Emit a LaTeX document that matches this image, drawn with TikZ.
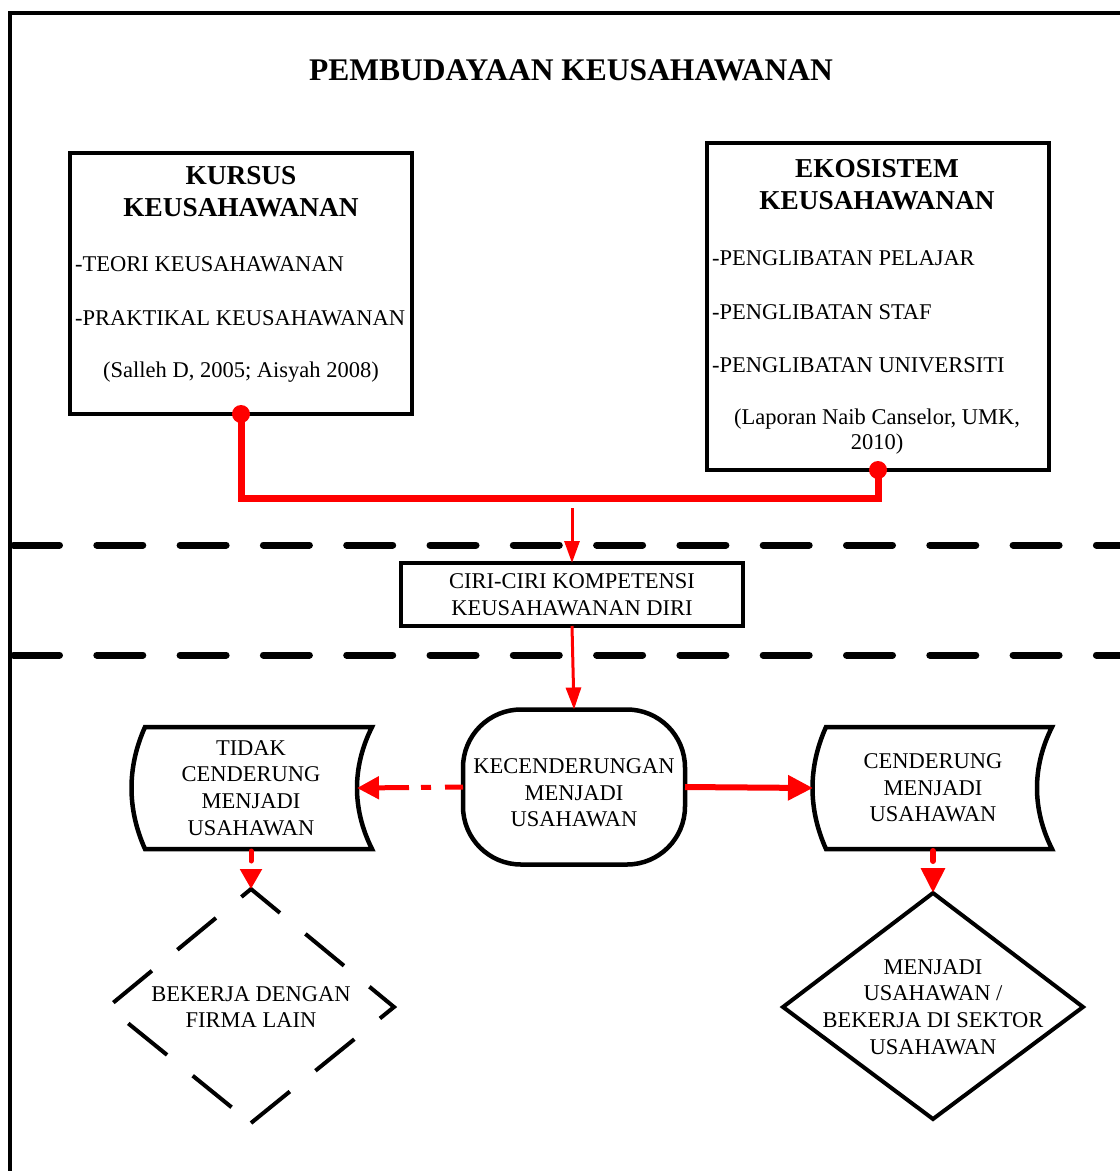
\documentclass[tikz,border=0pt]{standalone}
\usepackage{fontspec}
\setmainfont{Liberation Serif}
\usetikzlibrary{arrows.meta,calc}
\tikzset{
  frame/.style={line width=4.5pt, line join=miter},
  sepline/.style={line width=7pt, dash pattern=on 46pt off 37.3pt, line cap=round},
  box/.style={draw, line width=4pt, outer sep=0pt, inner sep=0pt},
  shapeline/.style={line width=4.5pt, line join=miter},
  txt/.style={font=\fontsize{22.5pt}{26.7pt}\selectfont, align=center, inner sep=0pt},
  ltxt/.style={font=\fontsize{22.5pt}{26.7pt}\selectfont, anchor=west, inner sep=0pt},
  headtxt/.style={font=\bfseries\fontsize{27.3pt}{32pt}\selectfont, align=center, inner sep=0pt},
  redlink/.style={draw=red, line width=7pt},
  thinarrow/.style={draw=red, line width=3pt, -{Triangle[length=22pt,width=15pt]}},
  dasharrow/.style={draw=red, line width=5pt, dash pattern=on 18pt off 14pt on 10pt off 12pt on 40pt off 10pt, -{Triangle[length=22pt,width=22pt]}},
  bigarrow/.style={draw=red, line width=6pt, -{Triangle[length=25pt,width=24pt]}},
  vdash/.style={draw=red, line width=5pt, line cap=round, dash pattern=on 10pt off 40pt},
}
\begin{document}
\begin{tikzpicture}[x=1pt,y=-1pt]
\useasboundingbox (0,0) rectangle (1120,1171);
\fill[white] (0,0) rectangle (1120,1171);

% outer frame and separators
\draw[frame] (10,1185) -- (10,13) -- (1135,13);
\draw[sepline] (13.5,545) -- (1135,545);
\draw[sepline] (13.5,655) -- (1135,655);

% title
\node[font=\bfseries\fontsize{31.5pt}{36pt}\selectfont, inner sep=0pt] (title) at (571,70) {PEMBUDAYAAN KEUSAHAWANAN};

% top boxes
\node[box, minimum width=342pt, minimum height=261pt] (kursus) at (241,283.5) {};
\node[headtxt] (kursusH) at (241,192) {KURSUS\\KEUSAHAWANAN};
\node[ltxt] (k1t) at (75,264) {-TEORI KEUSAHAWANAN};
\node[ltxt] (k2t) at (75,318) {-PRAKTIKAL KEUSAHAWANAN};
\node[txt] (k3t) at (241,372) {(Salleh D, 2005; Aisyah 2008)};

\node[box, minimum width=342pt, minimum height=327pt] (eko) at (878,306.5) {};
\node[headtxt] (ekoH) at (877,185) {EKOSISTEM\\KEUSAHAWANAN};
\node[ltxt] (e1t) at (712,258) {-PENGLIBATAN PELAJAR};
\node[ltxt] (e2t) at (712,312) {-PENGLIBATAN STAF};
\node[ltxt] (e3t) at (712,365) {-PENGLIBATAN UNIVERSITI};
\node[txt, font=\fontsize{22.5pt}{25pt}\selectfont] (e4t) at (877,432) {(Laporan Naib Canselor, UMK,\\2010)};

% middle box
\node[box, txt, minimum width=342pt, minimum height=63pt] (ciri) at (572,594.5) {CIRI-CIRI KOMPETENSI\\KEUSAHAWANAN DIRI};

% kecenderungan
\node[box, line width=4.5pt, rounded corners=58pt, minimum width=222pt, minimum height=155pt] (kec) at (574,787) {};
\node[txt] (kect) at (574,793) {KECENDERUNGAN\\MENJADI\\USAHAWAN};

% stored-data shapes
\draw[shapeline] (145,727) -- (372,727) .. controls (352,767) and (352,809) .. (372,849)
  -- (145,849) .. controls (127,809) and (127,767) .. (145,727) -- cycle;
\node[txt] (tidak) at (251,788) {TIDAK\\CENDERUNG\\MENJADI\\USAHAWAN};
\coordinate (tidakE) at (357,788);
\coordinate (tidakS) at (251,851);

\draw[shapeline] (826,727) -- (1052,727) .. controls (1032,767) and (1032,809) .. (1052,849)
  -- (826,849) .. controls (808,809) and (808,767) .. (826,727) -- cycle;
\node[txt] (cend) at (933,788) {CENDERUNG\\MENJADI\\USAHAWAN};
\coordinate (cendW) at (813,788);
\coordinate (cendS) at (933,851);

% diamonds
\coordinate (bN) at (251,889);
\coordinate (bE) at (394,1007);
\coordinate (bS) at (251,1123);
\coordinate (bW) at (108,1007);
\draw[line width=4pt, line join=miter, dash pattern=on 50pt off 33pt] (bS) -- (bE) -- (bN) -- (bW) -- cycle;
\node[txt] (bekerja) at (251,1007) {BEKERJA DENGAN\\FIRMA LAIN};

\coordinate (mN) at (933,893);
\coordinate (mE) at (1083,1007);
\coordinate (mS) at (933,1119);
\coordinate (mW) at (783,1007);
\draw[line width=4pt, line join=miter] (mN) -- (mE) -- (mS) -- (mW) -- cycle;
\node[txt] (menjadi) at (933,1007) {MENJADI\\USAHAWAN /\\BEKERJA DI SEKTOR\\USAHAWAN};

% connectors
\draw[redlink] (kursus.south) -- ++(0,84) -| (eko.south);
\fill[red] (kursus.south) circle[radius=9pt];
\fill[red] (eko.south) circle[radius=9pt];
\coordinate (junc) at (572,508);
\draw[thinarrow] (junc) -- (ciri.north);
\draw[thinarrow] (ciri.south) -- (kec.north);
\draw[dasharrow] (kec.west) -- (tidakE);
\draw[bigarrow] (kec.east) -- (cendW);
\draw[vdash, -{Triangle[length=20pt,width=21pt]}] (tidakS) -- (bN);
\draw[vdash, line width=6pt, -{Triangle[length=25pt,width=23pt]}] (cendS) -- (mN);
\end{tikzpicture}
\end{document}
